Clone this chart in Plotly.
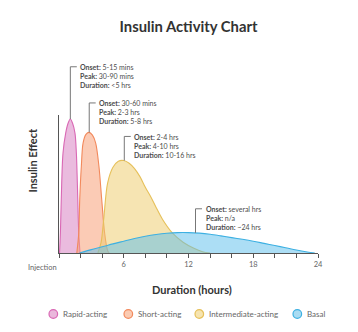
import plotly.graph_objects as go

# Activity profiles (hours after injection, relative insulin effect)
rapid_t = [0.05, 0.13, 0.25, 0.37, 0.62, 0.85, 1.05, 1.25, 1.48, 1.61, 1.7, 1.83, 1.95]
rapid_v = [0, 15, 52, 74.5, 89.5, 97, 100, 97, 89.5, 74.5, 52, 15, 0]

short_t = [1.65, 1.83, 1.92, 2.07, 2.23, 2.5, 2.78, 3.1, 3.4, 3.7, 3.96, 4.23, 4.5, 4.65]
short_v = [0, 14.7, 39.7, 64.7, 82, 88.5, 90, 88, 82, 64.7, 39.7, 14.7, 2, 0]

inter_t = [3.6, 3.9, 4.14, 4.5, 5.0, 5.5, 6.0, 6.5, 7.0, 7.5, 8.0, 8.5, 9.0, 9.6,
           10.5, 11.5, 12.5, 13.3, 14.0]
inter_v = [0, 8, 25, 52, 64, 68.5, 69, 67, 63, 57, 49, 42, 34, 25, 15, 8, 3.5, 1, 0]

basal_t = [1.9, 3, 4, 5, 6, 7, 8, 9, 10, 11, 12, 13, 14, 15, 16, 17, 18, 19, 20,
           21, 22, 23, 23.7]
basal_v = [0, 2.5, 4.6, 6.8, 8.8, 10.8, 12.5, 13.8, 14.7, 15.2, 15.2, 14.8, 14,
           12.8, 11.5, 10.2, 8.8, 7.2, 5.6, 3.9, 2.2, 0.8, 0]

names = ["Rapid-acting", "Short-acting", "Intermediate-acting", "Basal"]
series_t = [rapid_t, short_t, inter_t, basal_t]
series_v = [rapid_v, short_v, inter_v, basal_v]

# Callout details
onset = ["5-15 mins", "30-60 mins", "2-4 hrs", "several hrs"]
peak = ["30-90 mins", "2-3 hrs", "4-10 hrs", "n/a"]
duration = ["<5 hrs", "5-8 hrs", "10-16 hrs", "~24 hrs"]
callout_x = [1.05, 2.8, 6.05, 12.65]     # where each leader meets its curve
callout_base = [100, 90, 69, 15]         # curve height at that point
callout_top = [139, 112, 87, 33]         # height of the label's first line

tick_vals = list(range(0, 25, 2))
tick_text = ["" if v % 6 or v == 0 else str(v) for v in tick_vals]

line_colors = ["#d968b4", "#f2895c", "#e6c05a", "#3db0e2"]
fill_colors = ["rgba(214,120,190,0.5)", "rgba(247,160,120,0.55)",
               "rgba(238,205,115,0.55)", "rgba(90,190,235,0.5)"]
legend_fill = ["#eab8dc", "#fbcbb2", "#f6e4b0", "#a9dcf2"]

X_MAX = 24
Y_MAX = 103
FONT = "Lato"
PLOT_W = 358 - 59 - 40

# Legend row: swatch centres in pixels from the plot's left edge
legend_px = [-5.7, 69.3, 140.3, 238.3]
legend_y = -0.442

fig = go.Figure()

for n, t, v, lc, fc in zip(names, series_t, series_v, line_colors, fill_colors):
    fig.add_trace(go.Scatter(
        x=t, y=v, mode="lines", fill="tozeroy", fillcolor=fc, name=n,
        line=dict(color=lc, width=1.1, shape="spline", smoothing=0.9),
        showlegend=False, hoverinfo="skip",
    ))

shapes = []
annotations = []
for i in range(4):
    x0 = callout_x[i]
    yb = callout_base[i] / Y_MAX
    yt = callout_top[i] / Y_MAX
    shapes.append(dict(
        type="path", xref="x", yref="paper",
        path=f"M {x0},{yb} L {x0},{yt} L {x0 + 0.6},{yt}",
        line=dict(color="#777777", width=1),
    ))
    text = (f"<b>Onset:</b> {onset[i]}<br><b>Peak:</b> {peak[i]}"
            f"<br><b>Duration:</b> {duration[i]}")
    annotations.append(dict(
        x=x0, y=yt, xref="x", yref="paper", xanchor="left", yanchor="top",
        xshift=9, yshift=4.6, text=text, showarrow=False, align="left",
        borderpad=0, font=dict(family=FONT, size=7, color="#4d4d4d"),
    ))

# Legend swatches and labels
for i in range(4):
    xp = legend_px[i] / PLOT_W
    shapes.append(dict(
        type="circle", xref="paper", yref="paper",
        xsizemode="pixel", ysizemode="pixel", xanchor=xp, yanchor=legend_y,
        x0=-4.3, x1=4.3, y0=-4.3, y1=4.3,
        fillcolor=legend_fill[i], line=dict(color=line_colors[i], width=1.2),
    ))
    annotations.append(dict(
        x=xp, y=legend_y, xref="paper", yref="paper", xanchor="left",
        yanchor="middle", xshift=8, text=names[i], showarrow=False,
        font=dict(family=FONT, size=8, color="#666666"),
    ))

annotations += [
    dict(x=0, y=0, xref="x", yref="paper", xanchor="right", yanchor="top",
         yshift=-8, text="Injection", showarrow=False,
         font=dict(family=FONT, size=7.5, color="#666666")),
    dict(x=0.5, y=0, xref="paper", yref="paper", xanchor="center", yanchor="middle",
         yshift=-36, xshift=3, text="<b>Duration (hours)</b>", showarrow=False,
         font=dict(family=FONT, size=11, color="#333333")),
    dict(x=0, y=0.67, xref="paper", yref="paper", xanchor="center", yanchor="middle",
         xshift=-26, textangle=-90, text="<b>Insulin Effect</b>", showarrow=False,
         font=dict(family=FONT, size=11, color="#333333")),
]

fig.update_layout(
    width=358, height=332,
    margin=dict(l=59, r=40, t=115, b=79),
    paper_bgcolor="white", plot_bgcolor="white",
    font=dict(family=FONT, color="#555555"),
    showlegend=False,
    title=dict(text="<b>Insulin Activity Chart</b>", x=0.5, xref="paper",
               xanchor="center", y=1 - 27 / 332, yanchor="middle",
               font=dict(family=FONT, size=14.8, color="#333333")),
    xaxis=dict(range=[0, X_MAX], showgrid=False, zeroline=False, showline=True,
               linecolor="#555555", linewidth=1, ticks="outside", ticklen=4,
               tickcolor="#555555", tickvals=tick_vals, ticktext=tick_text,
               tickfont=dict(family=FONT, size=7.5, color="#666666")),
    yaxis=dict(range=[0, Y_MAX], showgrid=False, zeroline=False, showline=True,
               linecolor="#555555", linewidth=1, showticklabels=False, ticks=""),
    shapes=shapes, annotations=annotations,
)

fig.write_html("out.html")
